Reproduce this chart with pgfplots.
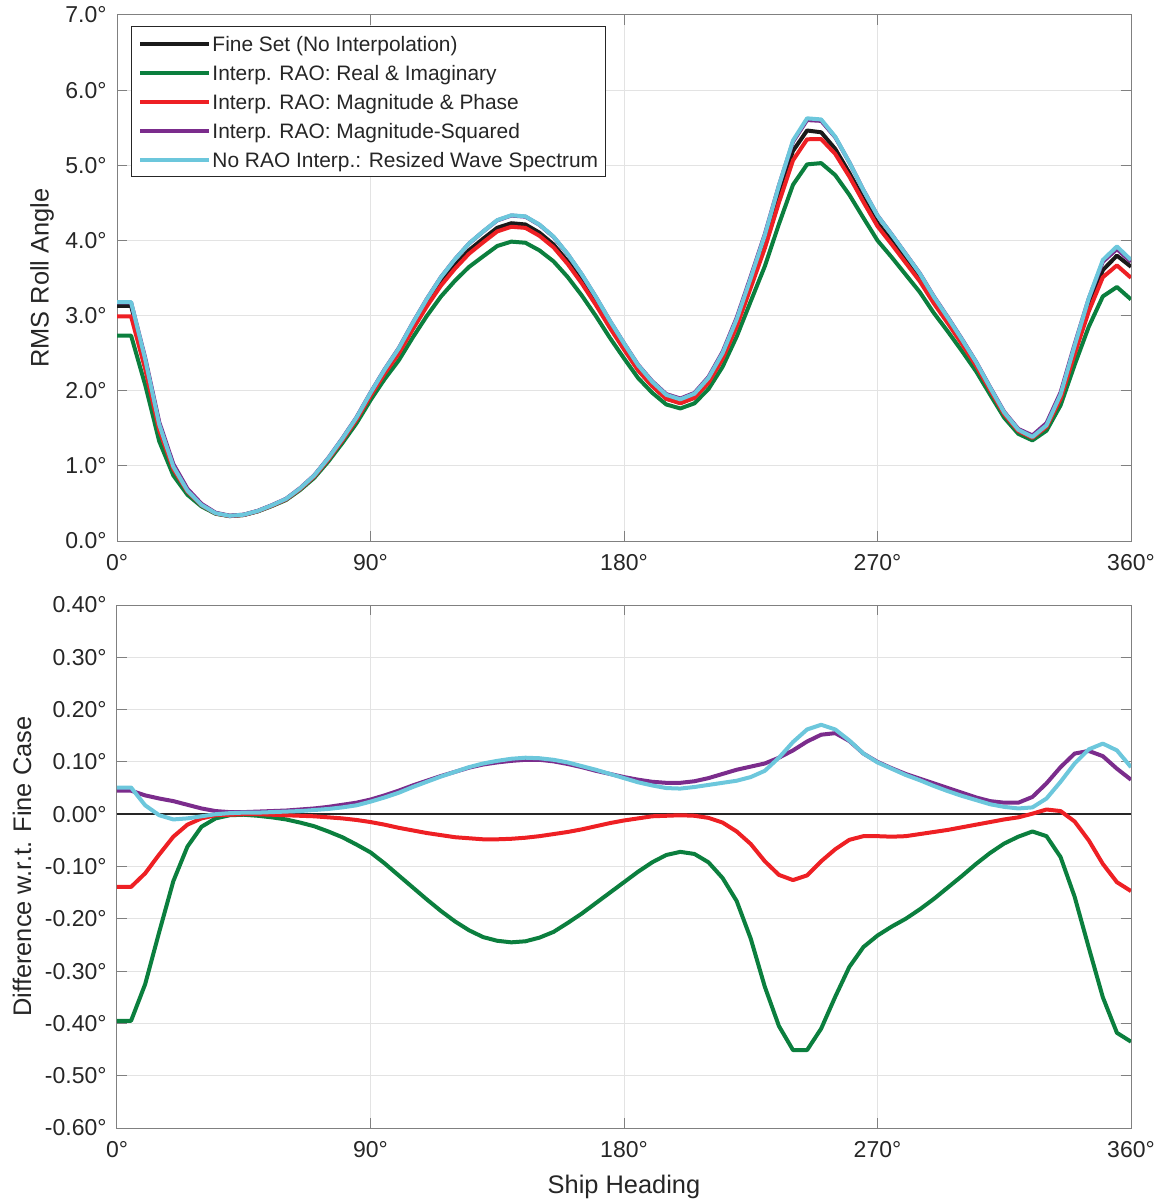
\documentclass[border=0pt]{standalone}
\usepackage{fontspec}
\setmainfont{Liberation Sans}
\usepackage{pgfplots}
\usepackage{pgfplotstable}
\pgfplotsset{compat=1.18}

\definecolor{cfine}{HTML}{1A1A1A}
\definecolor{cri}{HTML}{0B7F3E}
\definecolor{cmp}{HTML}{EE2024}
\definecolor{cms}{HTML}{7B2C8C}
\definecolor{crs}{HTML}{6CC7DC}
\definecolor{ctext}{HTML}{262626}
\definecolor{caxis}{HTML}{808080}
\definecolor{cgrid}{HTML}{E3E3E3}

\pgfplotstableread{
h fine ri mp ms rs
0 3.129 2.734 2.990 3.174 3.180
5 3.129 2.734 2.990 3.174 3.180
10 2.403 2.078 2.290 2.439 2.420
15 1.552 1.327 1.475 1.582 1.550
20 1.000 0.872 0.957 1.025 0.990
25 0.678 0.616 0.658 0.696 0.670
30 0.484 0.460 0.476 0.495 0.480
35 0.370 0.362 0.368 0.376 0.370
40 0.333 0.331 0.332 0.337 0.335
45 0.347 0.346 0.347 0.351 0.350
50 0.397 0.394 0.397 0.402 0.400
55 0.471 0.465 0.470 0.477 0.475
60 0.555 0.545 0.553 0.562 0.560
65 0.694 0.678 0.691 0.703 0.700
70 0.862 0.839 0.858 0.873 0.870
75 1.090 1.057 1.084 1.104 1.100
80 1.347 1.303 1.339 1.365 1.360
85 1.623 1.565 1.612 1.645 1.640
90 1.946 1.873 1.931 1.974 1.970
95 2.248 2.154 2.228 2.284 2.280
100 2.519 2.402 2.493 2.564 2.560
105 2.848 2.708 2.817 2.903 2.900
110 3.158 2.995 3.122 3.222 3.220
115 3.438 3.253 3.398 3.511 3.510
120 3.669 3.464 3.625 3.750 3.750
125 3.870 3.648 3.824 3.959 3.960
130 4.023 3.788 3.975 4.118 4.120
135 4.168 3.926 4.120 4.267 4.270
140 4.229 3.984 4.182 4.331 4.335
145 4.212 3.969 4.167 4.316 4.320
150 4.103 3.867 4.061 4.207 4.210
155 3.946 3.721 3.908 4.047 4.050
160 3.721 3.513 3.687 3.817 3.820
165 3.458 3.268 3.429 3.548 3.550
170 3.165 2.995 3.142 3.248 3.250
175 2.853 2.703 2.836 2.930 2.930
180 2.561 2.431 2.549 2.632 2.630
185 2.279 2.169 2.271 2.345 2.340
190 2.065 1.973 2.061 2.127 2.120
195 1.895 1.817 1.892 1.955 1.945
200 1.836 1.764 1.834 1.896 1.885
205 1.908 1.832 1.905 1.971 1.960
210 2.114 2.022 2.107 2.183 2.170
215 2.440 2.318 2.424 2.517 2.500
220 2.886 2.720 2.853 2.971 2.950
225 3.429 3.191 3.372 3.520 3.500
230 3.987 3.657 3.897 4.084 4.070
235 4.622 4.217 4.506 4.730 4.730
240 5.192 4.741 5.066 5.314 5.330
245 5.463 5.012 5.346 5.602 5.625
250 5.439 5.029 5.349 5.591 5.610
255 5.218 4.869 5.151 5.373 5.380
260 4.899 4.607 4.850 5.039 5.040
265 4.554 4.300 4.512 4.670 4.670
270 4.231 3.999 4.189 4.331 4.330
275 3.993 3.778 3.950 4.081 4.080
280 3.745 3.545 3.703 3.822 3.820
285 3.495 3.313 3.457 3.563 3.560
290 3.196 3.034 3.162 3.255 3.250
295 2.926 2.786 2.896 2.976 2.970
300 2.645 2.527 2.620 2.686 2.680
305 2.353 2.258 2.333 2.385 2.380
310 2.021 1.947 2.006 2.046 2.040
315 1.696 1.640 1.686 1.718 1.710
320 1.469 1.426 1.463 1.491 1.480
325 1.372 1.339 1.373 1.405 1.385
330 1.510 1.468 1.519 1.569 1.540
335 1.888 1.806 1.894 1.978 1.950
340 2.503 2.345 2.489 2.619 2.600
345 3.106 2.851 3.056 3.227 3.230
350 3.605 3.255 3.510 3.716 3.740
355 3.798 3.380 3.668 3.885 3.920
360 3.650 3.215 3.503 3.716 3.740
}\toptable

\pgfplotstableread{
h ri mp ms rs
0 -0.395 -0.139 0.045 0.051
5 -0.395 -0.139 0.045 0.051
10 -0.325 -0.113 0.036 0.017
15 -0.225 -0.077 0.030 -0.002
20 -0.128 -0.043 0.025 -0.010
25 -0.062 -0.020 0.018 -0.008
30 -0.024 -0.008 0.011 -0.004
35 -0.008 -0.002 0.006 0.000
40 -0.002 -0.001 0.004 0.002
45 -0.001 0.000 0.004 0.003
50 -0.003 0.000 0.005 0.003
55 -0.006 -0.001 0.006 0.004
60 -0.010 -0.002 0.007 0.005
65 -0.016 -0.003 0.009 0.006
70 -0.023 -0.004 0.011 0.008
75 -0.033 -0.006 0.014 0.010
80 -0.044 -0.008 0.018 0.013
85 -0.058 -0.011 0.022 0.017
90 -0.073 -0.015 0.028 0.024
95 -0.094 -0.020 0.036 0.032
100 -0.117 -0.026 0.045 0.041
105 -0.140 -0.031 0.055 0.052
110 -0.163 -0.036 0.064 0.062
115 -0.185 -0.040 0.073 0.072
120 -0.205 -0.044 0.081 0.081
125 -0.222 -0.046 0.089 0.090
130 -0.235 -0.048 0.095 0.097
135 -0.242 -0.048 0.099 0.102
140 -0.245 -0.047 0.102 0.106
145 -0.243 -0.045 0.104 0.108
150 -0.236 -0.042 0.104 0.107
155 -0.225 -0.038 0.101 0.104
160 -0.208 -0.034 0.096 0.099
165 -0.190 -0.029 0.090 0.092
170 -0.170 -0.023 0.083 0.085
175 -0.150 -0.017 0.077 0.077
180 -0.130 -0.012 0.071 0.069
185 -0.110 -0.008 0.066 0.061
190 -0.092 -0.004 0.062 0.055
195 -0.078 -0.003 0.060 0.050
200 -0.072 -0.002 0.060 0.049
205 -0.076 -0.003 0.063 0.052
210 -0.092 -0.007 0.069 0.056
215 -0.122 -0.016 0.077 0.060
220 -0.166 -0.033 0.085 0.064
225 -0.238 -0.057 0.091 0.071
230 -0.330 -0.090 0.097 0.083
235 -0.405 -0.116 0.108 0.108
240 -0.451 -0.126 0.122 0.138
245 -0.451 -0.117 0.139 0.162
250 -0.410 -0.090 0.152 0.171
255 -0.349 -0.067 0.155 0.162
260 -0.292 -0.049 0.140 0.141
265 -0.254 -0.042 0.116 0.116
270 -0.232 -0.042 0.100 0.099
275 -0.215 -0.043 0.088 0.087
280 -0.200 -0.042 0.077 0.075
285 -0.182 -0.038 0.068 0.065
290 -0.162 -0.034 0.059 0.054
295 -0.140 -0.030 0.050 0.044
300 -0.118 -0.025 0.041 0.035
305 -0.095 -0.020 0.032 0.027
310 -0.074 -0.015 0.025 0.019
315 -0.056 -0.010 0.022 0.014
320 -0.043 -0.006 0.022 0.011
325 -0.033 0.001 0.033 0.013
330 -0.042 0.009 0.059 0.030
335 -0.082 0.006 0.090 0.062
340 -0.158 -0.014 0.116 0.097
345 -0.255 -0.050 0.121 0.124
350 -0.350 -0.095 0.111 0.135
355 -0.418 -0.130 0.087 0.122
360 -0.435 -0.147 0.066 0.090
}\difftable

\pgfplotsset{
  mystyle/.style={
    scale only axis, width=507bp,
    xmin=0, xmax=360,
    xtick={0,90,180,270,360},
    xticklabels={0°,90°,180°,270°,360°},
    tick align=inside, major tick length=5bp,
    axis line style={caxis, line width=0.5bp},
    tick style={caxis, line width=0.5bp},
    grid=major, major grid style={cgrid, line width=0.5bp},
    tick label style={font=\fontsize{11.5bp}{13bp}\selectfont, text=ctext},
    yticklabel style={xshift=-1.7bp},
    xticklabel style={yshift=-3bp},
    label style={font=\fontsize{12.7bp}{15bp}\selectfont, text=ctext},
    every axis plot/.append style={line width=2bp, line join=round},
  }
}

\begin{document}
\begin{tikzpicture}
\begin{axis}[mystyle,
  name=top, at={(0,0)}, anchor=south west,
  height=263bp,
  ymin=0, ymax=7,
  ytick={0,1,2,3,4,5,6,7},
  yticklabels={0.0°,1.0°,2.0°,3.0°,4.0°,5.0°,6.0°,7.0°},
  ylabel={RMS Roll Angle},
  ylabel style={at={(axis description cs:-0.074,0.5)}, anchor=center},
  legend cell align=left,
  legend image code/.code={\draw[#1] (0bp,0bp) -- (34.5bp,0bp);},
  legend style={at={(axis description cs:0.0138,0.979)}, anchor=north west,
    draw=ctext, line width=0.5bp, fill=white,
    font=\fontsize{10.45bp}{12bp}\selectfont, text=ctext,
    inner xsep=3.5bp, inner ysep=2.3bp, row sep=2bp, column sep=0.5bp,
    nodes={inner sep=0pt, text height=10bp, text depth=2.5bp}},
]
\addplot[cfine] table[x=h, y=fine] {\toptable};
\addlegendentry{Fine Set (No Interpolation)}
\addplot[cri] table[x=h, y=ri] {\toptable};
\addlegendentry{Interp. RAO: Real \& Imaginary}
\addplot[cmp] table[x=h, y=mp] {\toptable};
\addlegendentry{Interp. RAO: Magnitude \& Phase}
\addplot[cms] table[x=h, y=ms] {\toptable};
\addlegendentry{Interp. RAO: Magnitude-Squared}
\addplot[crs] table[x=h, y=rs] {\toptable};
\addlegendentry{No RAO Interp.: Resized Wave Spectrum}
\end{axis}

\begin{axis}[mystyle,
  name=bot, at={(0,-32bp)}, anchor=north west,
  height=261.5bp,
  ymin=-0.6, ymax=0.4,
  ytick={-0.6,-0.5,-0.4,-0.3,-0.2,-0.1,0,0.1,0.2,0.3,0.4},
  yticklabels={-0.60°,-0.50°,-0.40°,-0.30°,-0.20°,-0.10°,0.00°,0.10°,0.20°,0.30°,0.40°},
  ylabel={Difference w.r.t. Fine Case},
  ylabel style={at={(axis description cs:-0.0937,0.5)}, anchor=center},
  xlabel={Ship Heading},
  xlabel style={at={(axis description cs:0.5,-0.1128)}, anchor=center},
]
\addplot[black!85, line width=0.9bp] coordinates {(0,0) (360,0)};
\addplot[cri] table[x=h, y=ri] {\difftable};
\addplot[cmp] table[x=h, y=mp] {\difftable};
\addplot[cms] table[x=h, y=ms] {\difftable};
\addplot[crs] table[x=h, y=rs] {\difftable};
\end{axis}
\pgfresetboundingbox
\path[use as bounding box] (-58.5bp,-331bp) rectangle (522bp,270.5bp);
\end{tikzpicture}
\end{document}
